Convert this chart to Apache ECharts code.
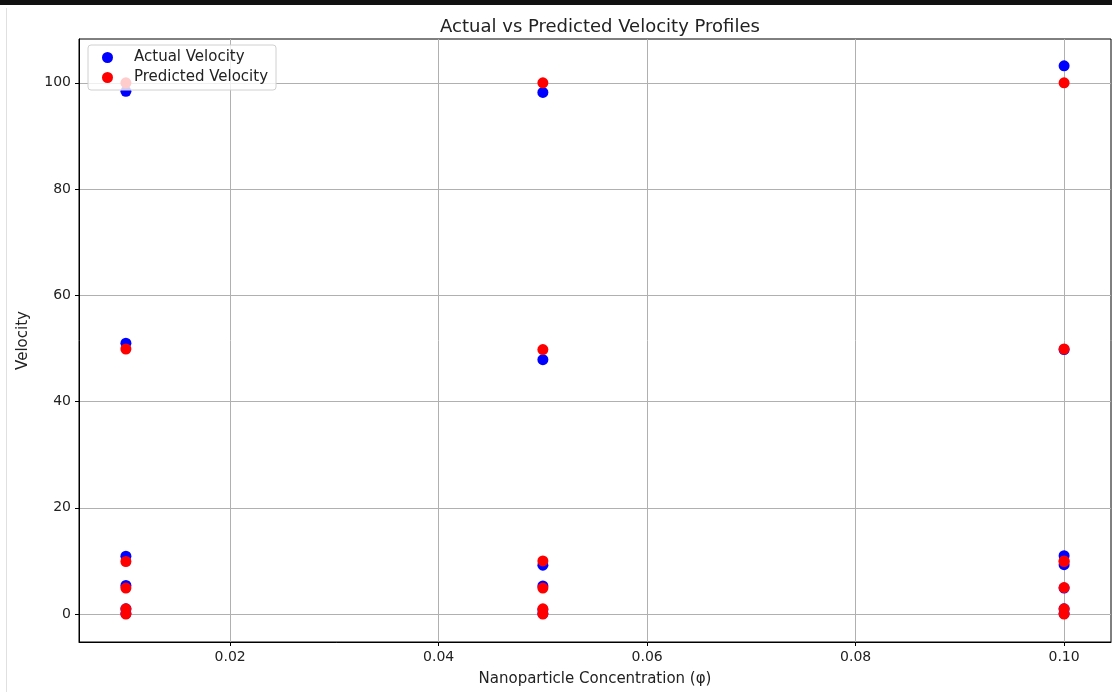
<!DOCTYPE html>
<html>
<head>
<meta charset="utf-8">
<script src="https://cdn.jsdelivr.net/npm/echarts@6/dist/echarts.min.js"></script>
<style>html,body{margin:0;padding:0;background:#fff}#c{width:1112px;height:692px}</style>
</head>
<body>
<div id="c"></div>
<script>
const xCats = [0.01, 0.05, 0.10];
const actualX = [0.01,0.01,0.01,0.01,0.01,0.01, 0.05,0.05,0.05,0.05,0.05,0.05, 0.10,0.10,0.10,0.10,0.10,0.10,0.10];
const actualY = [98.4,51.0,10.9,5.4,1.0,0.1, 98.2,47.9,9.2,5.3,0.8,0.1, 103.2,49.8,11.0,9.3,4.9,1.0,0.1];
const predX = [0.01,0.01,0.01,0.01,0.01,0.01, 0.05,0.05,0.05,0.05,0.05,0.05, 0.10,0.10,0.10,0.10,0.10,0.10,0.10];
const predY = [100.0,49.9,9.9,4.9,1.0,0.0, 100.0,49.8,10.0,4.9,1.0,0.0, 100.0,49.9,10.0,9.9,5.0,1.0,0.0];
const xTicks = [0.02, 0.04, 0.06, 0.08, 0.10];
const yTicks = [0, 20, 40, 60, 80, 100];

const chart = echarts.init(document.getElementById('c'), null, {renderer: 'canvas'});
const font = 'DejaVu Sans';
chart.setOption({
  animation: false,
  backgroundColor: '#fff',
  title: {
    text: 'Actual vs Predicted Velocity Profiles',
    left: 595, top: 13, textAlign: 'center',
    textStyle: {fontFamily: font, fontSize: 18, fontWeight: 'normal', color: '#222'}
  },
  legend: {
    left: 88, top: 45, orient: 'vertical',
    backgroundColor: 'rgba(255,255,255,0.8)', borderColor: '#d0d0d0', borderWidth: 1, borderRadius: 3,
    padding: [5, 8, 5, 14], itemGap: 5, itemWidth: 11, itemHeight: 11,
    textStyle: {fontFamily: font, fontSize: 15, color: '#222', padding: [0, 0, 0, 16]},
    data: [{name: 'Actual Velocity', icon: 'circle'}, {name: 'Predicted Velocity', icon: 'circle'}]
  },
  grid: {left: 79, right: 1, top: 39, bottom: 48, show: true, borderColor: '#000', borderWidth: 1, backgroundColor: 'transparent'},
  xAxis: {
    type: 'value', min: 0.0055, max: 0.1045,
    name: 'Nanoparticle Concentration (φ)', nameLocation: 'middle', nameGap: 30,
    nameTextStyle: {fontFamily: font, fontSize: 15, color: '#222'},
    axisLine: {show: true, onZero: false, lineStyle: {color: '#000'}},
    axisTick: {show: true, length: 4, lineStyle: {color: '#000'}, customValues: xTicks},
    axisLabel: {fontFamily: font, fontSize: 14, color: '#222', margin: 8, customValues: xTicks,
      formatter: v => v.toFixed(2)},
    splitLine: {show: true, lineStyle: {color: '#b0b0b0', width: 1}}
  },
  yAxis: {
    type: 'value', min: -5.25, max: 108.25,
    name: 'Velocity', nameLocation: 'middle', nameGap: 48, nameRotate: 90,
    nameTextStyle: {fontFamily: font, fontSize: 15, color: '#222'},
    axisLine: {show: true, onZero: false, lineStyle: {color: '#000'}},
    axisTick: {show: true, length: 4, lineStyle: {color: '#000'}, customValues: yTicks},
    axisLabel: {fontFamily: font, fontSize: 14, color: '#222', margin: 8, customValues: yTicks},
    splitLine: {show: true, lineStyle: {color: '#b0b0b0', width: 1}}
  },
  series: [
    {name: 'Actual Velocity', type: 'scatter', symbolSize: 11, itemStyle: {color: '#0000ff', opacity: 1},
     data: actualX.map((x, i) => [x, actualY[i]]), z: 2},
    {name: 'Predicted Velocity', type: 'scatter', symbolSize: 11, itemStyle: {color: '#ff0000', opacity: 1},
     data: predX.map((x, i) => [x, predY[i]]), z: 3}
  ],
  graphic: [
    {type: 'rect', shape: {x: 0, y: 0, width: 1112, height: 5}, style: {fill: '#111'}},
    {type: 'rect', shape: {x: 6, y: 8, width: 1, height: 684}, style: {fill: '#e0e0e0'}}
  ]
});
</script>
</body>
</html>
